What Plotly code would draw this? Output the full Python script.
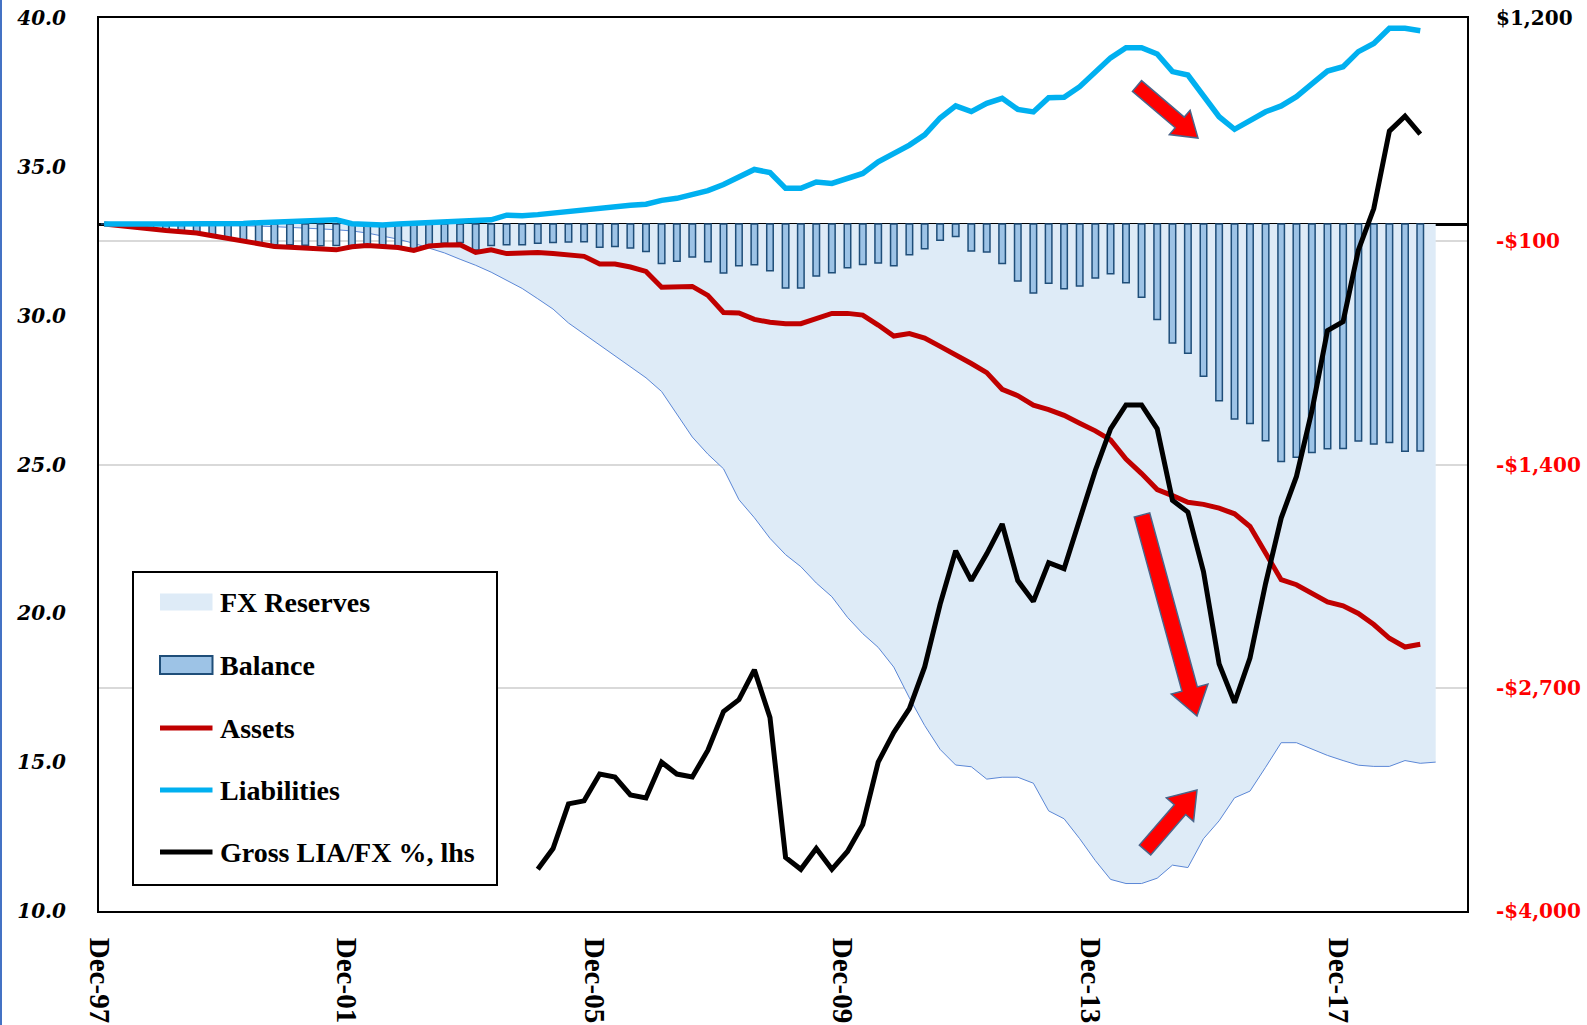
import math
import pandas as pd
import plotly.graph_objects as go

# ---------------------------------------------------------------- data
# Quarter-end observation dates, Dec-97 onwards (FX reserves has one extra quarter)
quarters = pd.period_range("1997Q4", periods=87, freq="Q")
quarter_dates = [q.end_time.strftime("%Y-%m-%d") for q in quarters]

# FX reserves, $bn (shown as a negative area)
fx_reserves = [
    0, 0, -1, -2, -3, -4, -5, -6, -8, -10,
    -12, -15, -18, -22, -28, -33, -40, -52, -68, -88,
    -112, -140, -168, -205, -240, -280, -325, -375, -435, -495,
    -576, -640, -700, -765, -830, -895, -975, -1107, -1240, -1340,
    -1425, -1605, -1710, -1830, -1925, -1995, -2090, -2170, -2290, -2385,
    -2465, -2580, -2759, -2920, -3059, -3150, -3160, -3232, -3221, -3221,
    -3256, -3417, -3463, -3579, -3706, -3816, -3840, -3840, -3809, -3733,
    -3747, -3579, -3475, -3341, -3302, -3163, -3020, -3020, -3059, -3094,
    -3124, -3151, -3158, -3158, -3124, -3140, -3133,
]

# Gross liabilities, $bn
liabilities = [
    0, 2, 3, 1, 0, 0, 0, 0, 0, 3,
    8, 10, 14, 16, 19, 25, 2, -3, -5, 0,
    3, 8, 10, 12, 14, 25, 52, 48, 55, 64,
    76, 85, 97, 103, 110, 116, 138, 150, 172, 195,
    230, 275, 318, 300, 208, 208, 245, 237, 265, 295,
    362, 410, 460, 520, 618, 688, 655, 703, 732, 668,
    653, 736, 738, 800, 890, 968, 1027, 1027, 990, 888,
    868, 746, 625, 552, 600, 654, 688, 742, 816, 891,
    916, 1004, 1052, 1140, 1140, 1126,
]

# Gross assets, $bn (negative)
assets = [
    0, -10, -22, -30, -38, -45, -52, -68, -85, -100,
    -118, -130, -135, -140, -145, -150, -132, -125, -130, -136,
    -153, -128, -122, -120, -165, -150, -172, -168, -166, -172,
    -180, -188, -232, -233, -250, -276, -368, -366, -363, -415,
    -515, -518, -555, -572, -580, -580, -548, -520, -520, -530,
    -588, -652, -638, -664, -712, -760, -812, -865, -962, -999,
    -1054, -1080, -1114, -1160, -1204, -1257, -1368, -1453, -1546, -1581,
    -1620, -1632, -1654, -1687, -1761, -1916, -2071, -2100, -2146, -2200,
    -2223, -2267, -2332, -2412, -2463, -2447,
]

# Net balance, $bn
balance = [
    0, -8, -19, -29, -38, -45, -52, -68, -85, -97,
    -110, -120, -121, -124, -126, -125, -130, -128, -135, -136,
    -150, -120, -112, -108, -151, -125, -120, -120, -111, -108,
    -104, -103, -135, -130, -140, -160, -230, -216, -191, -220,
    -285, -243, -237, -272, -372, -372, -303, -283, -255, -235,
    -226, -242, -178, -144, -94, -72, -157, -162, -230, -331,
    -401, -344, -376, -360, -314, -289, -341, -426, -556, -693,
    -752, -886, -1029, -1135, -1161, -1262, -1383, -1358, -1330, -1309,
    -1307, -1263, -1280, -1272, -1323, -1321,
]

# Gross liabilities / FX reserves, % (left axis), from Dec-04
gross_lia_fx_start = 28
gross_lia_fx = [
    11.4, 12.1, 13.6, 13.7, 14.6, 14.5, 13.9, 13.8, 15.0, 14.6,
    14.5, 15.4, 16.7, 17.1, 18.1, 16.5, 11.8, 11.4, 12.1, 11.4,
    12.0, 12.9, 15.0, 16.0, 16.8, 18.2, 20.3, 22.1, 21.1, 22.0,
    23.0, 21.1, 20.4, 21.7, 21.5, 23.1, 24.8, 26.2, 27.0, 27.0,
    26.2, 23.8, 23.4, 21.4, 18.3, 17.0, 18.5, 21.0, 23.2, 24.6,
    26.8, 29.5, 29.8, 32.2, 33.6, 36.2, 36.7, 36.1,
]

x_tick_labels = ["Dec-97", "Dec-01", "Dec-05", "Dec-09", "Dec-13", "Dec-17"]
dollar_ticks = [-4000, -2700, -1400, -100, 1200]
dollar_tick_text = ["-$4,000", "-$2,700", "-$1,400", "-$100", "$1,200"]
pct_ticks = [10, 15, 20, 25, 30, 35, 40]

legend_names = ["FX Reserves", "Balance", "Assets", "Liabilities", "Gross LIA/FX %, lhs"]

# ---------------------------------------------------------------- styling
W, H = 1587, 1025
PLOT_L, PLOT_R, PLOT_T, PLOT_B = 99, 1467, 18, 911
TICK_LAST_PX = 1338          # pixel position of the last date tick

C_FX_FILL = "#DEEBF7"
C_FX_EDGE = "#5B87D6"
C_BAL_FILL = "#9DC3E6"
C_BAL_EDGE = "#1F4E79"
C_ASSETS = "#C00000"
C_LIAB = "#00B0F0"
C_GROSS = "#000000"
C_RED_TXT = "#FF0000"

n_main = len(liabilities)
x_main = quarter_dates[:n_main]
x_gross = quarter_dates[gross_lia_fx_start:gross_lia_fx_start + len(gross_lia_fx)]

# Date ticks sit on the first day of each labelled month
tick_dates = [pd.to_datetime("01-" + lab, format="%d-%b-%y") for lab in x_tick_labels]
days_span = (tick_dates[-1] - tick_dates[0]).days
px_per_day = (TICK_LAST_PX - PLOT_L) / days_span
x_end = tick_dates[0] + pd.Timedelta(days=(PLOT_R - PLOT_L) / px_per_day)
x_range = [tick_dates[0].strftime("%Y-%m-%d"), x_end.strftime("%Y-%m-%d %H:%M")]
bar_width_ms = 0.42 * 91.3 * 86400000


def px_x(x):
    return (x - PLOT_L) / (PLOT_R - PLOT_L)


def px_y(y):
    return (PLOT_B - y) / (PLOT_B - PLOT_T)


fig = go.Figure()

# FX reserves area on the base dollar axis
fig.add_trace(go.Scatter(
    x=quarter_dates, y=fx_reserves, name=legend_names[0],
    mode="lines", fill="tozeroy", fillcolor=C_FX_FILL,
    line=dict(color=C_FX_EDGE, width=1), xaxis="x", yaxis="y",
    showlegend=False,
))

# Balance bars, assets and liabilities on an overlaid dollar axis
fig.add_trace(go.Bar(
    x=x_main, y=balance, name=legend_names[1], width=bar_width_ms,
    marker=dict(color=C_BAL_FILL, line=dict(color=C_BAL_EDGE, width=1.5)),
    xaxis="x", yaxis="y2", showlegend=False,
))
fig.add_trace(go.Scatter(
    x=x_main, y=assets, name=legend_names[2], mode="lines",
    line=dict(color=C_ASSETS, width=5), xaxis="x", yaxis="y2",
    showlegend=False,
))
fig.add_trace(go.Scatter(
    x=x_main, y=liabilities, name=legend_names[3], mode="lines",
    line=dict(color=C_LIAB, width=5.5), xaxis="x", yaxis="y2",
    showlegend=False,
))

# Ratio line on the left-hand percentage axis (drawn last, on top)
fig.add_trace(go.Scatter(
    x=x_gross, y=gross_lia_fx, name=legend_names[4], mode="lines",
    line=dict(color=C_GROSS, width=5), xaxis="x", yaxis="y3",
    showlegend=False,
))

dollar_range = [-4000, 1200]

tick_font_right = dict(family="DejaVu Serif", size=20, color="#000000", weight="bold")
fig.update_layout(
    width=W, height=H,
    margin=dict(l=PLOT_L, r=W - PLOT_R, t=PLOT_T, b=H - PLOT_B, pad=0, autoexpand=False),
    paper_bgcolor="white", plot_bgcolor="white",
    showlegend=False,
    xaxis=dict(
        type="date", range=x_range, autorange=False, automargin=False,
        tickmode="array", tickvals=[d.strftime("%Y-%m-%d") for d in tick_dates],
        ticktext=x_tick_labels,
        tickangle=90, ticks="", ticklabelstandoff=19,
        tickfont=dict(family="Liberation Serif", size=29, color="#000000", weight="bold"),
        showgrid=False, zeroline=False,
        showline=True, mirror=True, linecolor="#000000", linewidth=2,
    ),
    yaxis=dict(
        range=dollar_range, autorange=False, side="right", automargin=False,
        tickmode="array", tickvals=dollar_ticks,
        ticktext=[t if v > 0 else f'<span style="color:{C_RED_TXT}">{t}</span>'
                  for v, t in zip(dollar_ticks, dollar_tick_text)],
        ticks="", ticklabelstandoff=23, tickfont=tick_font_right,
        showgrid=True, gridcolor="#D9D9D9", gridwidth=2,
        zeroline=True, zerolinecolor="#000000", zerolinewidth=3,
        showline=True, mirror=True, linecolor="#000000", linewidth=2,
    ),
    yaxis2=dict(
        range=dollar_range, autorange=False, overlaying="y", side="right",
        visible=False, showgrid=False, zeroline=False, automargin=False,
    ),
    yaxis3=dict(
        range=[10, 40], autorange=False, overlaying="y", side="left", automargin=False,
        tickmode="array", tickvals=pct_ticks, tickformat=".1f",
        ticks="", ticklabelstandoff=32,
        tickfont=dict(family="DejaVu Serif", size=20, color="#000000",
                      weight="bold", style="italic"),
        showgrid=False, zeroline=False, showline=False,
    ),
)

shapes = []


def block_arrow(tail, tip, shaft, head_w, head_len):
    (x0, y0), (x1, y1) = tail, tip
    dx, dy = x1 - x0, y1 - y0
    length = math.hypot(dx, dy)
    ux, uy = dx / length, dy / length
    nx, ny = -uy, ux
    bx, by = x1 - ux * head_len, y1 - uy * head_len
    pts = [
        (x0 + nx * shaft / 2, y0 + ny * shaft / 2),
        (bx + nx * shaft / 2, by + ny * shaft / 2),
        (bx + nx * head_w / 2, by + ny * head_w / 2),
        (x1, y1),
        (bx - nx * head_w / 2, by - ny * head_w / 2),
        (bx - nx * shaft / 2, by - ny * shaft / 2),
        (x0 - nx * shaft / 2, y0 - ny * shaft / 2),
    ]
    path = "M " + " L ".join(f"{px_x(x):.5f},{px_y(y):.5f}" for x, y in pts) + " Z"
    return dict(type="path", xref="paper", yref="paper", path=path,
                fillcolor="#FF0000", line=dict(color="#4A6489", width=1.5),
                layer="above")


# Trend arrows
shapes.append(block_arrow((1137, 86), (1198, 138), 14, 32, 24))
shapes.append(block_arrow((1142, 515), (1197, 716), 16, 38, 28))
shapes.append(block_arrow((1145, 850), (1197, 790), 15, 36, 26))

# Legend box and keys
LEG_X0, LEG_X1, LEG_Y0, LEG_Y1 = 133, 497, 572, 885
shapes.append(dict(type="rect", xref="paper", yref="paper",
                   x0=px_x(LEG_X0), x1=px_x(LEG_X1), y0=px_y(LEG_Y1), y1=px_y(LEG_Y0),
                   fillcolor="white", line=dict(color="#000000", width=2), layer="above"))
key_x0, key_x1 = 160, 212.5
row_y = [602, 665, 728, 790, 852]
shapes.append(dict(type="rect", xref="paper", yref="paper",
                   x0=px_x(key_x0), x1=px_x(key_x1),
                   y0=px_y(row_y[0] + 8.5), y1=px_y(row_y[0] - 8.5),
                   fillcolor=C_FX_FILL, line=dict(width=0), layer="above"))
shapes.append(dict(type="rect", xref="paper", yref="paper",
                   x0=px_x(key_x0), x1=px_x(key_x1),
                   y0=px_y(row_y[1] + 9), y1=px_y(row_y[1] - 9),
                   fillcolor=C_BAL_FILL, line=dict(color=C_BAL_EDGE, width=2), layer="above"))
for yy, col in zip(row_y[2:], [C_ASSETS, C_LIAB, C_GROSS]):
    shapes.append(dict(type="line", xref="paper", yref="paper",
                       x0=px_x(key_x0), x1=px_x(key_x1), y0=px_y(yy), y1=px_y(yy),
                       line=dict(color=col, width=5), layer="above"))

# Thin frame rule along the left edge of the page
shapes.append(dict(type="line", xref="paper", yref="paper",
                   x0=px_x(1), x1=px_x(1), y0=px_y(0), y1=px_y(H),
                   line=dict(color="#4472C4", width=2), layer="above"))

annotations = [
    dict(xref="paper", yref="paper", x=px_x(218), y=px_y(yy), text=name,
         showarrow=False, xanchor="left", yanchor="middle",
         font=dict(family="Liberation Serif", size=28, color="#000000", weight="bold"))
    for yy, name in zip(row_y, legend_names)
]

fig.update_layout(shapes=shapes, annotations=annotations)

fig.write_html("out.html")
